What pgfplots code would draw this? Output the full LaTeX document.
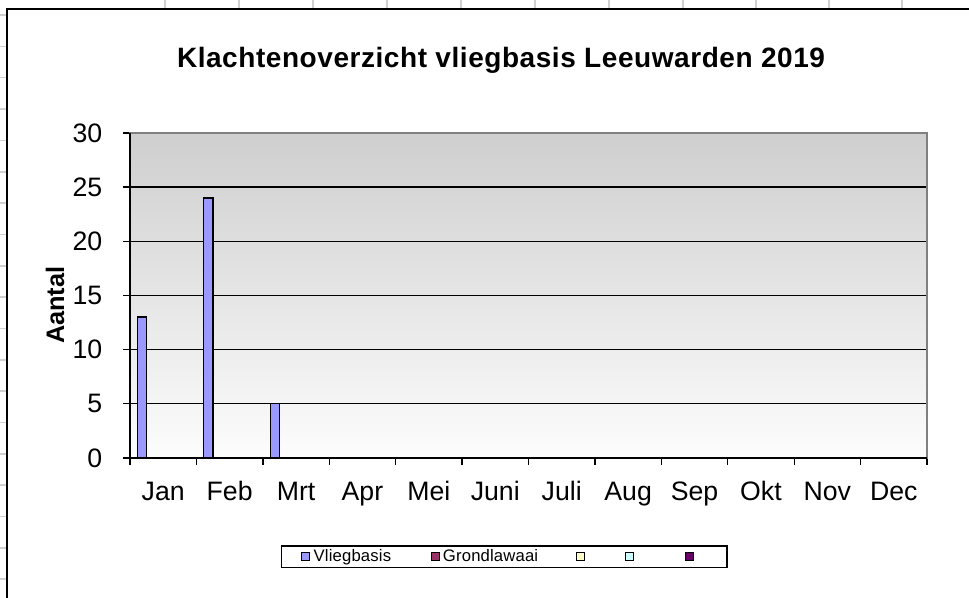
\documentclass[border=0pt]{standalone}
\usepackage{pgfplots}
\pgfplotsset{compat=1.18}
\usepackage{fontspec}
\setmainfont{Liberation Sans}
\definecolor{vlieg}{HTML}{9999FF}
\definecolor{grond}{HTML}{993366}
\definecolor{geel}{HTML}{FFFFCC}
\definecolor{cyaan}{HTML}{CCFFFF}
\definecolor{paars}{HTML}{660066}
\definecolor{sheet}{HTML}{D0D0D0}
\definecolor{border}{HTML}{808080}
\begin{document}
\begin{tikzpicture}
\useasboundingbox (0,0) rectangle (726.75pt,448.5pt);
\begin{scope}[x=0.75pt,y=-0.75pt,yshift=448.5pt]
  \foreach \xx in {165,239,313,387,461,535,609,683,756,829,902}
    \draw[sheet,line width=1.2pt] (\xx,0) -- (\xx,9.5);
  \foreach \yy in {15,46.4,77.7,109.1,140.4,171.8,203.1,234.5,265.8,297.2,328.5,359.9,391.2,422.6,453.9,485.3,516.6,548,579.3}
    \draw[sheet,line width=1.2pt] (0,\yy) -- (7,\yy);
  \draw[black,line width=1.5pt] (7,605) -- (7,9.5) -- (975,9.5);
\end{scope}
\begin{axis}[
  name=ax,
  at={(97.5pt,105pt)}, anchor=south west,
  width=597.75pt, height=243.75pt, scale only axis,
  xmin=-0.5, xmax=11.5, ymin=0, ymax=30,
  xtick={-0.5,0.5,1.5,2.5,3.5,4.5,5.5,6.5,7.5,8.5,9.5,10.5,11.5},
  xticklabels={Jan,Feb,Mrt,Apr,Mei,Juni,Juli,Aug,Sep,Okt,Nov,Dec,{}},
  ytick={0,5,10,15,20,25,30},
  tick pos=left, tick align=outside,
  major tick length=5.25pt,
  tick style={black,line width=1pt},
  ymajorgrids, major grid style={black,line width=1pt},
  axis line style={border,line width=1pt},
  axis background/.style={shade,top color=black!19,bottom color=black!1},
  /pgf/number format/assume math mode=true,
  ticklabel style={font=\fontsize{20}{23}\selectfont},
  xticklabel style={anchor=base,xshift=24.9pt,yshift=-27pt},
  yticklabel style={anchor=east,xshift=-12pt},
  ylabel={Aantal},
  ylabel style={at={(axis description cs:-0.0828,0.47)},anchor=base,font=\fontsize{19}{22}\selectfont\bfseries},
  title={Klachtenoverzicht vliegbasis Leeuwarden 2019},
  title style={at={(axis description cs:0.4655,1.2)},anchor=base,yshift=-6pt,font=\fontsize{21}{24}\selectfont\bfseries\addfontfeatures{LetterSpace=2}},
  legend columns=5,
  legend style={at={(0.4695,-0.3037)},anchor=center,draw=black,line width=1pt,
    inner xsep=15pt,inner ysep=2pt,column sep=0pt,
    font=\fontsize{12.5}{14}\selectfont\addfontfeatures{LetterSpace=1},
    nodes={inner xsep=0pt,inner ysep=0pt,minimum height=12pt}},
  legend image code/.code={\draw[#1,line width=0.8pt] (0pt,-3pt) rectangle (6pt,3pt);},
]
\addplot[ybar,bar width=7pt,bar shift=-15.9pt,fill=vlieg,draw=black,line width=1pt,
  legend image code/.code={\draw[fill=vlieg,draw=black,line width=0.8pt] (0pt,-3pt) rectangle (6pt,3pt);}]
  coordinates {(0,13) (1,24) (2,5)};
\addlegendentry{\makebox[90.2pt][l]{\hspace{2.5pt}Vliegbasis}}
\addlegendimage{fill=grond,draw=black}
\addlegendentry{\makebox[102.2pt][l]{\hspace{2.5pt}Grondlawaai}}
\addlegendimage{fill=geel,draw=black}
\addlegendentry{\makebox[30.3pt][l]{}}
\addlegendimage{fill=cyaan,draw=black}
\addlegendentry{\makebox[37.7pt][l]{}}
\addlegendimage{fill=paars,draw=black}
\addlegendentry{\makebox[10pt][l]{}}
\end{axis}
\draw[black,line width=1pt] (ax.north west) -- (ax.south west) -- (ax.south east);
\end{tikzpicture}
\end{document}
